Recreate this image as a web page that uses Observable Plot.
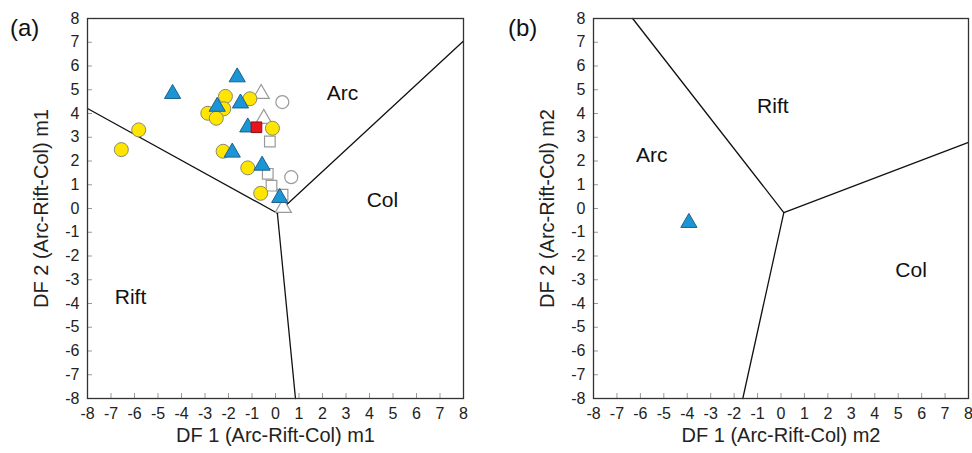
<!DOCTYPE html>
<html><head><meta charset="utf-8">
<script src="https://cdn.jsdelivr.net/npm/d3@7"></script>
<script src="https://cdn.jsdelivr.net/npm/@observablehq/plot@0.6"></script>
<style>
body{margin:0;background:#fff;font-family:"Liberation Sans",Arial,sans-serif;}
#wrap{position:relative;width:972px;height:453px;display:flex;}
.tag{position:absolute;top:14px;font-size:24px;color:#111;}
</style></head>
<body><div id="wrap"><div class="tag" style="left:10px">(a)</div><div class="tag" style="left:508px">(b)</div></div>
<script>
const ticks = d3.range(-8, 9);
// Panel (a) data
const yellowA = [[-6.56,2.48],[-5.82,3.31],[-2.13,4.72],[-1.09,4.62],[-2.2,4.2],[-2.88,4.01],[-2.52,3.8],[-0.13,3.38],[-2.23,2.41],[-1.18,1.71],[-0.63,0.64]];
const blueTriA = [[-4.38,4.83],[-1.63,5.53],[-2.48,4.29],[-1.49,4.43],[-1.18,3.42],[-1.84,2.36],[-0.57,1.81],[0.18,0.45]];
const redSqA = [[-0.81,3.42]];
const openTriA = [[-0.61,4.83],[-0.5,3.78],[0.33,0.03]];
const openCircA = [[0.29,4.48],[0.67,1.32]];
const openSqA = [[-0.24,2.82],[-0.33,1.46],[-0.17,0.96],[0.3,0.58]];
const boundsA = [
  {seg:"l", pts:[[-8,4.21],[0.08,-0.2]]},
  {seg:"r", pts:[[0.08,-0.2],[8,7.05]]},
  {seg:"d", pts:[[0.08,-0.2],[0.85,-8]]}
];
const fieldsA = [{t:"Arc",x:2.85,y:4.84},{t:"Col",x:4.55,y:0.34},{t:"Rift",x:-6.17,y:-3.75}];
// Panel (b) data
const blueTriB = [[-3.93,-0.6]];
const boundsB = [
  {seg:"u", pts:[[-6.33,8],[0.12,-0.17]]},
  {seg:"r", pts:[[0.12,-0.17],[8,2.78]]},
  {seg:"d", pts:[[0.12,-0.17],[-1.63,-8]]}
];
const fieldsB = [{t:"Rift",x:-0.35,y:4.3},{t:"Arc",x:-5.52,y:2.23},{t:"Col",x:5.55,y:-2.61}];

const segRows = b => b.flatMap(s => s.pts.map(p => ({seg:s.seg, x:p[0], y:p[1]})));
const fmt = d => String(d);

function panel(opts){
  const {ml, mr, xlab, ylab, points, bounds, fields} = opts;
  return Plot.plot({
    width: 486, height: 453,
    marginLeft: ml, marginRight: mr, marginTop: 18, marginBottom: 55,
    x: {domain:[-8,8]}, y: {domain:[-8,8]},
    style: {fontFamily:"Liberation Sans, Arial, sans-serif", fontSize:"16px", background:"#fff"},
    marks: [
      Plot.axisX({ticks, tickFormat:fmt, tickSize:0, tickPadding:9, fontSize:16, label:null, fill:"#222"}),
      Plot.axisY({ticks, tickFormat:fmt, tickSize:0, tickPadding:8, fontSize:16, label:null, fill:"#222"}),
      Plot.axisX({ticks, tickSize:5, dy:-5, text:null, label:null, stroke:"#999"}),
      Plot.axisY({ticks, tickSize:5, dx:5, text:null, label:null, stroke:"#999"}),
      Plot.line(segRows(bounds), {x:"x", y:"y", z:"seg", stroke:"#111", strokeWidth:1.3}),
      Plot.text(fields, {x:"x", y:"y", text:"t", fontSize:21, fill:"#111"}),
      ...points,
      Plot.frame({stroke:"#333", strokeWidth:1.3}),
      Plot.text([xlab], {frameAnchor:"bottom", textAnchor:"middle", dy:43, fontSize:20, fill:"#222"}),
      Plot.text([ylab], {frameAnchor:"left", textAnchor:"middle", rotate:-90, dx:-46, fontSize:20, fill:"#222"})
    ]
  });
}
const dot = (data, o) => Plot.dot(data, {x:d=>d[0], y:d=>d[1], ...o});
const pointsA = [
  dot(openSqA, {symbol:"square", r:6, stroke:"#9a9a9a", fill:"#fff", strokeWidth:1.2}),
  dot(openCircA, {symbol:"circle", r:6.5, stroke:"#9a9a9a", fill:"#fff", strokeWidth:1.2}),
  dot(openTriA, {symbol:"triangle", r:6, stroke:"#9a9a9a", fill:"#fff", strokeWidth:1.2}),
  dot(yellowA, {symbol:"circle", r:7, stroke:"#8a8a6a", fill:"#ffe500", strokeWidth:1}),
  dot(blueTriA, {symbol:"triangle", r:6, stroke:"#1f5f85", fill:"#1a96d6", strokeWidth:1}),
  dot(redSqA, {symbol:"square", r:6, stroke:"#8a1010", fill:"#e8141b", strokeWidth:1})
];
const pointsB = [
  dot(blueTriB, {symbol:"triangle", r:6, stroke:"#1f5f85", fill:"#1a96d6", strokeWidth:1})
];
const wrap = document.getElementById("wrap");
wrap.append(panel({ml:87, mr:23, xlab:"DF 1 (Arc-Rift-Col) m1", ylab:"DF 2 (Arc-Rift-Col) m1", points:pointsA, bounds:boundsA, fields:fieldsA}));
wrap.append(panel({ml:107, mr:4, xlab:"DF 1 (Arc-Rift-Col) m2", ylab:"DF 2 (Arc-Rift-Col) m2", points:pointsB, bounds:boundsB, fields:fieldsB}));
</script></body></html>
